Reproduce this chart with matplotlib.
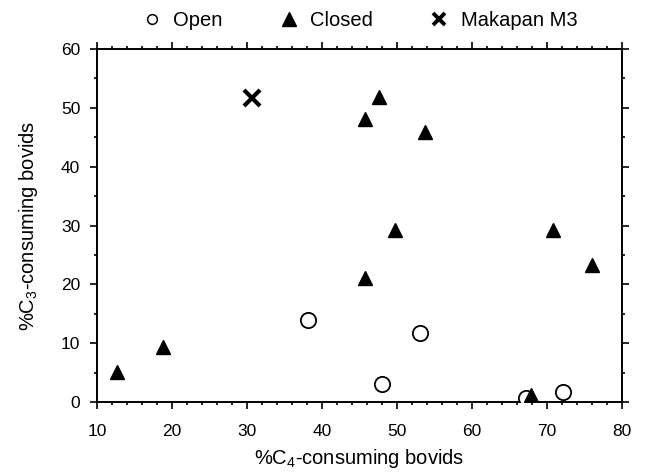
import matplotlib
matplotlib.use("Agg")
import matplotlib.pyplot as plt
from matplotlib.lines import Line2D
from matplotlib.ticker import MultipleLocator

plt.rcParams['font.family'] = ['Liberation Sans', 'DejaVu Sans']
plt.rcParams['mathtext.fontset'] = 'custom'
plt.rcParams['mathtext.rm'] = 'Liberation Sans'
plt.rcParams['mathtext.it'] = 'Liberation Sans'

# Data
open_c4 = [38.1, 48.0, 53.1, 67.2, 72.1]
open_c3 = [13.9, 3.0, 11.8, 0.6, 1.7]

closed_c4 = [12.7, 18.8, 45.7, 45.7, 47.6, 49.7, 53.7, 67.9, 70.8, 76.0]
closed_c3 = [5.1, 9.3, 21.0, 48.1, 51.9, 29.2, 45.9, 1.2, 29.2, 23.3]

makapan_c4 = [30.6]
makapan_c3 = [51.6]

x_ticks = [10, 20, 30, 40, 50, 60, 70, 80]
y_ticks = [0, 10, 20, 30, 40, 50, 60]

fig = plt.figure(figsize=(6.45, 4.73), dpi=100)
ax = fig.add_axes([97/645, 1-402/473, (622-97)/645, (402-49)/473])

ax.plot(open_c4, open_c3, linestyle='none', marker='o', markersize=11,
        markerfacecolor='white', markeredgecolor='black', markeredgewidth=1.3, zorder=3)
ax.plot(closed_c4, closed_c3, linestyle='none', marker='^', markersize=10.5,
        color='black', zorder=4)
ax.plot(makapan_c4, makapan_c3, linestyle='none', marker='x', markersize=12,
        color='black', markeredgewidth=3, zorder=4)

ax.set_xlim(10, 80)
ax.set_ylim(0, 60)
ax.set_xticks(x_ticks)
ax.set_yticks(y_ticks)
ax.xaxis.set_minor_locator(MultipleLocator(2))
ax.yaxis.set_minor_locator(MultipleLocator(5))
ax.tick_params(which='both', direction='out', top=True, right=True,
               labeltop=False, labelright=False, width=1.2, labelsize=12.5)
ax.tick_params(which='major', length=5)
ax.tick_params(which='minor', length=2.5)
ax.tick_params(axis='x', which='major', pad=10.5)
ax.tick_params(axis='y', which='major', pad=7)
for s in ax.spines.values():
    s.set_linewidth(1.4)

ax.set_xlabel('%C$_4$-consuming bovids', fontsize=14.5, labelpad=6)
ax.set_ylabel('%C$_3$-consuming bovids', fontsize=14.5, labelpad=15)

handles = [
    Line2D([], [], linestyle='none', marker='o', markersize=7,
           markerfacecolor='white', markeredgecolor='black', markeredgewidth=1.1),
    Line2D([], [], linestyle='none', marker='^', markersize=9.5, color='black'),
    Line2D([], [], linestyle='none', marker='x', markersize=8, color='black',
           markeredgewidth=2.8),
]
ax.legend(handles, ['Open', 'Closed', 'Makapan M3'], loc='lower center',
          bbox_to_anchor=(0.5, 1.055), ncol=3, frameon=False, fontsize=14.5,
          handlelength=1.0, handletextpad=0.55, columnspacing=2.8,
          borderaxespad=0, borderpad=0)

fig.savefig('out.png', dpi=100)
